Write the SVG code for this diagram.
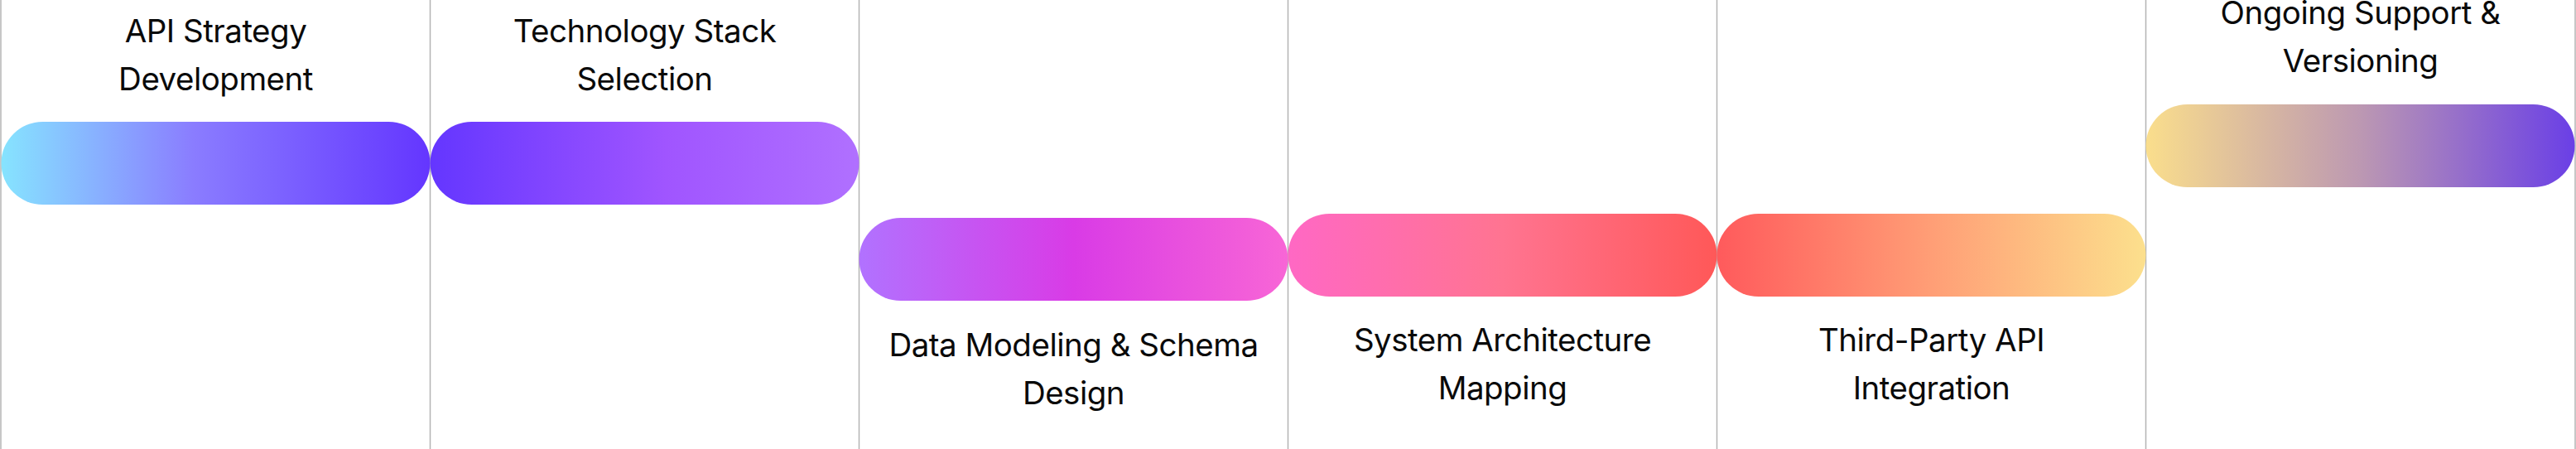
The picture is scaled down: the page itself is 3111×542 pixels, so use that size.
<svg xmlns="http://www.w3.org/2000/svg" width="3111" height="542" viewBox="0 0 3111 542">
<style>
.lbl{font-family:Inter,"Noto Sans","Liberation Sans",sans-serif;font-size:38.5px;fill:#0a0a0a;text-anchor:middle;letter-spacing:-0.5px}
.div{stroke:#b4b4b4;stroke-width:1.5}
</style>
<defs>
<linearGradient id="g1" x1="0" y1="0" x2="1" y2="0"><stop offset="0" stop-color="#86E4FF"/><stop offset="0.45" stop-color="#8A7CFF"/><stop offset="1" stop-color="#6436FF"/></linearGradient>
<linearGradient id="g2" x1="0" y1="0" x2="1" y2="0"><stop offset="0" stop-color="#6436FF"/><stop offset="0.55" stop-color="#A055FF"/><stop offset="1" stop-color="#B070FF"/></linearGradient>
<linearGradient id="g3" x1="0" y1="0" x2="1" y2="0"><stop offset="0" stop-color="#B172FF"/><stop offset="0.5" stop-color="#D93BE6"/><stop offset="1" stop-color="#F866D6"/></linearGradient>
<linearGradient id="g4" x1="0" y1="0" x2="1" y2="0"><stop offset="0" stop-color="#FF68C4"/><stop offset="0.5" stop-color="#FF7491"/><stop offset="1" stop-color="#FF5858"/></linearGradient>
<linearGradient id="g5" x1="0" y1="0" x2="1" y2="0"><stop offset="0" stop-color="#FF5A5C"/><stop offset="0.5" stop-color="#FF9E76"/><stop offset="1" stop-color="#FCE08D"/></linearGradient>
<linearGradient id="g6" x1="0" y1="0" x2="1" y2="0"><stop offset="0" stop-color="#FADE8C"/><stop offset="0.5" stop-color="#BC98B2"/><stop offset="1" stop-color="#6A3FE6"/></linearGradient>
</defs>
<rect width="3111" height="542" fill="#ffffff"/>
<g id="dividers">
<line class="div" x1="1" y1="0" x2="1" y2="542"/>
<line class="div" x1="519.5" y1="0" x2="519.5" y2="542"/>
<line class="div" x1="1037.5" y1="0" x2="1037.5" y2="542"/>
<line class="div" x1="1555.5" y1="0" x2="1555.5" y2="542"/>
<line class="div" x1="2073.5" y1="0" x2="2073.5" y2="542"/>
<line class="div" x1="2591.5" y1="0" x2="2591.5" y2="542"/>
<line class="div" x1="3110" y1="0" x2="3110" y2="542"/>
</g>
<g id="step1">
<rect x="1.5" y="147" width="518" height="100" rx="50" fill="url(#g1)"/>
<text class="lbl" x="260.5" y="51">API Strategy</text>
<text class="lbl" x="260.5" y="109">Development</text>
</g>
<g id="step2">
<rect x="519.5" y="147" width="518" height="100" rx="50" fill="url(#g2)"/>
<text class="lbl" x="778.5" y="51">Technology Stack</text>
<text class="lbl" x="778.5" y="109">Selection</text>
</g>
<g id="step3">
<rect x="1037.5" y="263" width="518" height="100" rx="50" fill="url(#g3)"/>
<text class="lbl" x="1296.5" y="430">Data Modeling &amp; Schema</text>
<text class="lbl" x="1296.5" y="488">Design</text>
</g>
<g id="step4">
<rect x="1555.5" y="258" width="518" height="100" rx="50" fill="url(#g4)"/>
<text class="lbl" x="1814.5" y="424">System Architecture</text>
<text class="lbl" x="1814.5" y="482">Mapping</text>
</g>
<g id="step5">
<rect x="2073.5" y="258" width="518" height="100" rx="50" fill="url(#g5)"/>
<text class="lbl" x="2332.5" y="424">Third-Party API</text>
<text class="lbl" x="2332.5" y="482">Integration</text>
</g>
<g id="step6">
<rect x="2591.5" y="126" width="518" height="100" rx="50" fill="url(#g6)"/>
<text class="lbl" x="2850.5" y="29">Ongoing Support &amp;</text>
<text class="lbl" x="2850.5" y="87">Versioning</text>
</g>
</svg>
